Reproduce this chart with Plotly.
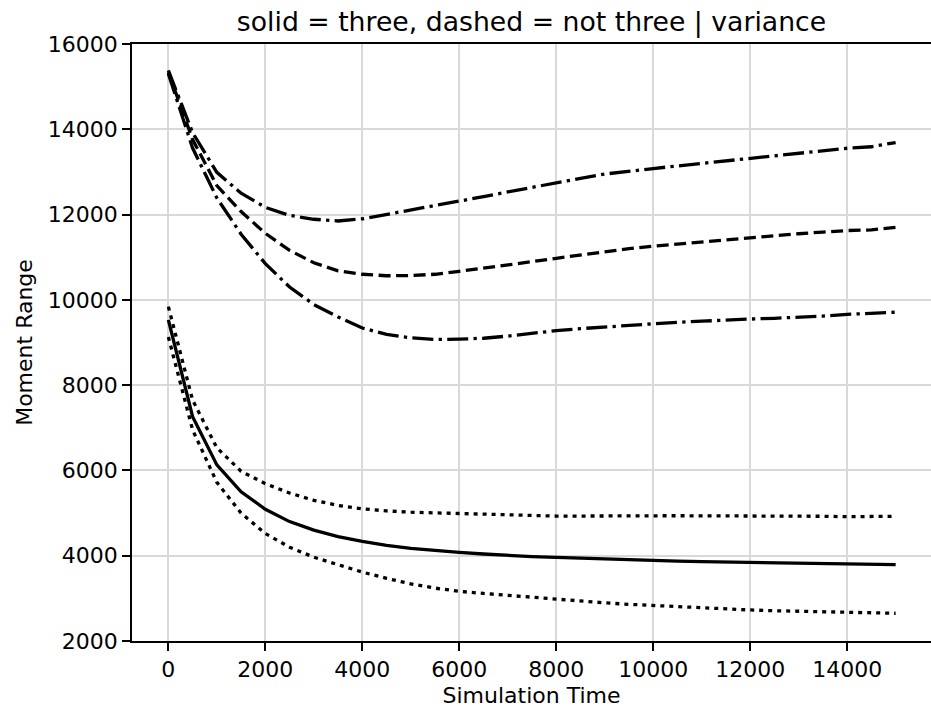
import plotly.graph_objects as go

# Simulation time samples
sim_time = list(range(0, 15001, 500))

# "not three" (dashed family): mean and variance bands
not_three_upper = [15380, 13920, 12990, 12500, 12170, 11980, 11890, 11850, 11900, 12000,
                   12110, 12210, 12310, 12420, 12530, 12640, 12735, 12850, 12950, 13020,
                   13080, 13140, 13200, 13255, 13310, 13375, 13435, 13500, 13555, 13590, 13690]
not_three_mean = [15340, 13760, 12680, 12070, 11560, 11160, 10870, 10680, 10600, 10565,
                  10570, 10600, 10670, 10740, 10820, 10895, 10975, 11050, 11130, 11200,
                  11260, 11310, 11365, 11410, 11460, 11505, 11550, 11590, 11625, 11640, 11700]
not_three_lower = [15300, 13560, 12390, 11540, 10850, 10300, 9890, 9600, 9340, 9190,
                   9110, 9070, 9080, 9100, 9150, 9215, 9278, 9325, 9365, 9405,
                   9450, 9475, 9500, 9530, 9550, 9568, 9590, 9620, 9660, 9685, 9710]

# "three" (solid family): mean and variance bands
three_upper = [9840, 7650, 6530, 5980, 5690, 5470, 5300, 5180, 5100, 5050,
               5020, 5005, 4990, 4975, 4955, 4940, 4930, 4930, 4935, 4940,
               4940, 4938, 4935, 4935, 4938, 4935, 4930, 4925, 4915, 4920, 4925]
three_mean = [9530, 7260, 6130, 5500, 5090, 4800, 4600, 4450, 4335, 4240,
              4170, 4120, 4080, 4040, 4005, 3980, 3960, 3940, 3920, 3905,
              3890, 3875, 3860, 3850, 3840, 3825, 3815, 3808, 3795, 3790, 3790]
three_lower = [9130, 6950, 5720, 5000, 4520, 4200, 3965, 3780, 3615, 3470,
               3340, 3240, 3165, 3115, 3070, 3020, 2975, 2935, 2895, 2860,
               2830, 2800, 2775, 2750, 2728, 2710, 2695, 2685, 2675, 2660, 2650]

x_ticks = [0, 2000, 4000, 6000, 8000, 10000, 12000, 14000]
y_ticks = [2000, 4000, 6000, 8000, 10000, 12000, 14000, 16000]

LW = 3.3
DASHED = "12px,5.5px"
DASHDOT = "21px,5.3px,3.3px,5.3px"
DOTTED = "4px,5px"

series = [
    (not_three_upper, DASHDOT),
    (not_three_mean, DASHED),
    (not_three_lower, DASHDOT),
    (three_upper, DOTTED),
    (three_mean, "solid"),
    (three_lower, DOTTED),
]

fig = go.Figure()
for ys, dash in series:
    fig.add_trace(go.Scatter(x=sim_time, y=ys, mode="lines",
                             line=dict(color="black", width=LW, dash=dash),
                             showlegend=False, hoverinfo="skip"))

FONT = "DejaVu Sans"
fig.update_layout(
    width=931, height=719,
    margin=dict(l=132, r=0, t=44, b=78),
    paper_bgcolor="white", plot_bgcolor="white",
    font=dict(family=FONT, size=22, color="black"),
    title=dict(text="solid = three, dashed = not three | variance",
               font=dict(family=FONT, size=26.7, color="black"),
               x=0.5, xref="paper", xanchor="center",
               y=1 - 22 / 719, yref="container", yanchor="middle"),
    showlegend=False,
)
fig.update_xaxes(
    range=[-750, 15729], tickvals=x_ticks, ticktext=[str(v) for v in x_ticks],
    showgrid=True, gridcolor="#d9d9d9", gridwidth=1.5,
    showline=True, linecolor="black", linewidth=1.8, mirror=True,
    ticks="outside", ticklen=8, tickwidth=1.8, tickcolor="black",
    zeroline=False,
    title=dict(text="Simulation Time", font=dict(family=FONT, size=22), standoff=6),
)
fig.update_yaxes(
    range=[2000, 16000], tickvals=y_ticks, ticktext=[str(v) for v in y_ticks],
    showgrid=True, gridcolor="#d9d9d9", gridwidth=1.5,
    showline=True, linecolor="black", linewidth=1.8, mirror=False,
    ticks="outside", ticklen=8, tickwidth=1.8, tickcolor="black",
    zeroline=False,
    title=dict(text="Moment Range", font=dict(family=FONT, size=22), standoff=9),
)

fig.write_html("out.html")
